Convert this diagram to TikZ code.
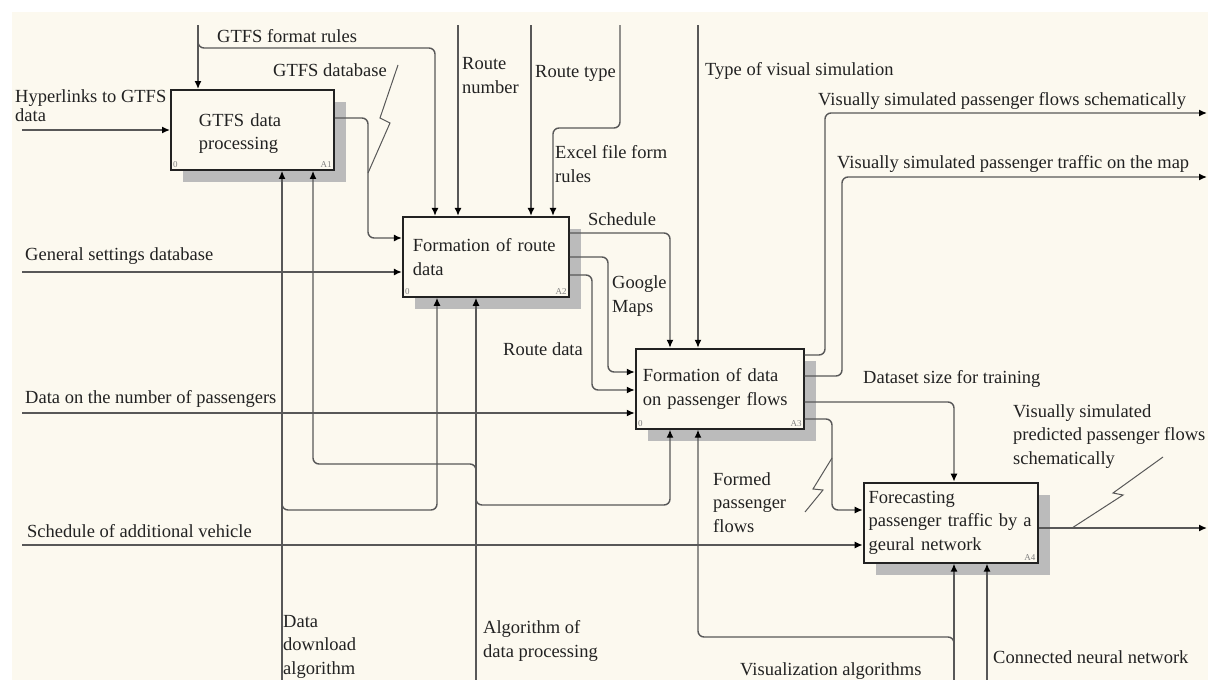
\documentclass[tikz,border=0pt]{standalone}
\usepackage{fontspec}
\setmainfont{Liberation Serif}
\usetikzlibrary{arrows.meta,positioning,shadows}

\definecolor{paper}{HTML}{FCF9EF}
\definecolor{shade}{HTML}{BBBBBB}
\definecolor{wire}{HTML}{585858}
\definecolor{boxline}{HTML}{222222}
\definecolor{ink}{HTML}{222222}
\newcommand{\lbl}{\fontsize{18.5}{23.5}\selectfont}

\begin{document}
\begin{tikzpicture}[x=1pt, y=-1pt]
\tikzstyle{func} = [rectangle, draw=boxline, line width=1.9pt, fill=paper, minimum height=80pt, align=left, font=\lbl, text=ink, inner ysep=0pt, drop shadow={shadow xshift=12pt, shadow yshift=-12pt, fill=shade, opacity=1}]
\tikzstyle{corner} = [font=\fontsize{9}{9}\selectfont, text=gray, inner sep=3pt]
\tikzstyle{arrowline} = [draw=wire, line width=1.4pt, rounded corners=6pt, -{Latex[length=8pt, width=7pt, black]}]
\tikzstyle{bolt} = [draw=wire, line width=1pt]
\tikzstyle{txt} = [font=\lbl, text=ink, anchor=base west, inner sep=0pt, align=left]

% Background
\useasboundingbox (0,0) rectangle (1208,680);
\fill [white] (0,0) rectangle (1208,680);
\fill [paper] (12,12) rectangle (1208,680);

% Function Blocks
\node [func, anchor=north west, minimum width=163pt, text width=107pt, inner xsep=28pt,
  label={[corner, anchor=south west]south west:0}, label={[corner, anchor=south east]south east:A1}] (a1) at (170,89) {\rule{0pt}{20pt}GTFS data\\processing};

\node [func, below right=45pt and 67pt of a1, minimum width=166pt, text width=146pt, inner xsep=10pt,
  label={[corner, anchor=south west]south west:0}, label={[corner, anchor=south east]south east:A2}] (a2) {Formation of route\\data};

\node [func, below right=50pt and 65pt of a2, minimum width=168pt, text width=154pt, inner xsep=7pt,
  label={[corner, anchor=south west]south west:0}, label={[corner, anchor=south east]south east:A3}] (a3) {Formation of data\\on passenger flows};

\node [func, below right=52pt and 58pt of a3, minimum width=174pt, text width=164pt, inner xsep=5pt,
  label={[corner, anchor=south east]south east:A4}] (a4) {Forecasting\\passenger traffic by a\\geural network};

% Free ends and forks
\coordinate (inHyper) at (22,130);
\coordinate (inSettings) at (22,272);
\coordinate (inPassengers) at (22,413);
\coordinate (inVehicle) at (22,545);
\coordinate (ctlRules) at (198,25);
\coordinate (rulesFork) at (198,40);
\coordinate (ctlRouteNo) at (458,25);
\coordinate (ctlRouteType) at (531,25);
\coordinate (ctlExcel) at (620,25);
\coordinate (ctlVisual) at (698,25);
\coordinate (mechDownload) at (282,680);
\coordinate (downloadFork) at (282,500);
\coordinate (mechAlgo) at (476,680);
\coordinate (algoForkA) at (476,474);
\coordinate (algoForkB) at (476,497);
\coordinate (mechVis) at (954,680);
\coordinate (visFork) at (954,647);
\coordinate (mechNet) at (987,680);
\coordinate (outFlows) at (1207,113);
\coordinate (outMap) at (1207,177);
\coordinate (outPredicted) at (1207,528);

% Connections
\draw [arrowline] (inHyper) -- (inHyper -| a1.west);
\draw [arrowline] (ctlRules) -- (ctlRules |- a1.north);
\draw [arrowline] (rulesFork) |- (435,48) -- (a2.north -| 435,0);
\draw [arrowline] (a1.east |- 0,118) -| (368,238) -- (a2.west |- 0,238);
\draw [arrowline] (ctlRouteNo) -- (ctlRouteNo |- a2.north);
\draw [arrowline] (ctlRouteType) -- (ctlRouteType |- a2.north);
\draw [arrowline] (ctlExcel) |- (553,128) -- (a2.north -| 553,0);
\draw [arrowline] (inSettings) -- (inSettings -| a2.west);
\draw [arrowline] (mechDownload) -- (mechDownload |- a1.south);
\draw [arrowline] (downloadFork) |- (437,510) -- (a2.south -| 437,0);
\draw [arrowline] (mechAlgo) -- (mechAlgo |- a2.south);
\draw [arrowline] (algoForkA) |- (313,464) -- (a1.south -| 313,0);
\draw [arrowline] (algoForkB) |- (670,505) -- (a3.south -| 670,0);

\draw [arrowline] (a2.east |- 0,233) -| (a3.north -| 670,0);
\draw [arrowline] (a2.east |- 0,257) -| (608,372) -- (a3.west |- 0,372);
\draw [arrowline] (a2.east |- 0,275) -| (592,390) -- (a3.west |- 0,390);
\draw [arrowline] (ctlVisual) -- (ctlVisual |- a3.north);
\draw [arrowline] (inPassengers) -- (inPassengers -| a3.west);

\draw [arrowline] (a3.east |- 0,355) -| (outFlows -| 825,0) -- (outFlows);
\draw [arrowline] (a3.east |- 0,376) -| (outMap -| 842,0) -- (outMap);
\draw [arrowline] (a3.east |- 0,402) -| (a4.north -| 954,0);
\draw [arrowline] (a3.east |- 0,419) -| (832,510) -- (a4.west |- 0,510);
\draw [arrowline] (inVehicle) -- (inVehicle -| a4.west);
\draw [arrowline] (a4.east |- outPredicted) -- (outPredicted);
\draw [arrowline] (mechVis) -- (mechVis |- a4.south);
\draw [arrowline] (visFork) |- (698,637) -- (a3.south -| 698,0);
\draw [arrowline] (mechNet) -- (mechNet |- a4.south);

% Squiggles
\draw [bolt] (398,65) -- (380,118) -- (390,123) -- (368,173);
\draw [bolt] (832,458) -- (813,489) -- (823,490) -- (805,512);
\draw [bolt] (1163,457) -- (1113,493) -- (1123,495) -- (1072,528);

% Labels (base = baseline of the last line)
\node [txt] (lblRules) at (217,42) {GTFS format rules};
\node [txt] (lblDb) at (273,76) {GTFS database};
\node [txt, font=\fontsize{18.5}{19}\selectfont] (lblHyper) at (15,121) {Hyperlinks to GTFS\\data};
\node [txt] (lblRouteNo) at (462,93) {Route\\number};
\node [txt] (lblRouteType) at (535,77) {Route type};
\node [txt] (lblExcel) at (555,182) {Excel file form\\rules};
\node [txt] (lblVisual) at (705,75) {Type of visual simulation};
\node [txt] (lblFlows) at (818,105) {Visually simulated passenger flows schematically};
\node [txt] (lblMap) at (837,168) {Visually simulated passenger traffic on the map};
\node [txt] (lblSchedule) at (588,225) {Schedule};
\node [txt] (lblGoogle) at (612,312) {Google\\Maps};
\node [txt] (lblRouteData) at (503,355) {Route data};
\node [txt] (lblSettings) at (25,260) {General settings database};
\node [txt] (lblPassengers) at (25,403) {Data on the number of passengers};
\node [txt] (lblDataset) at (863,383) {Dataset size for training};
\node [txt] (lblPredicted) at (1013,464) {Visually simulated\\predicted passenger flows\\schematically};
\node [txt] (lblFormed) at (713,532) {Formed\\passenger\\flows};
\node [txt] (lblVehicle) at (27,537) {Schedule of additional vehicle};
\node [txt] (lblDownload) at (283,674) {Data\\download\\algorithm};
\node [txt] (lblAlgo) at (483,657) {Algorithm of\\data processing};
\node [txt] (lblVis) at (740,675) {Visualization algorithms};
\node [txt] (lblNet) at (993,663) {Connected neural network};

\end{tikzpicture}
\end{document}
